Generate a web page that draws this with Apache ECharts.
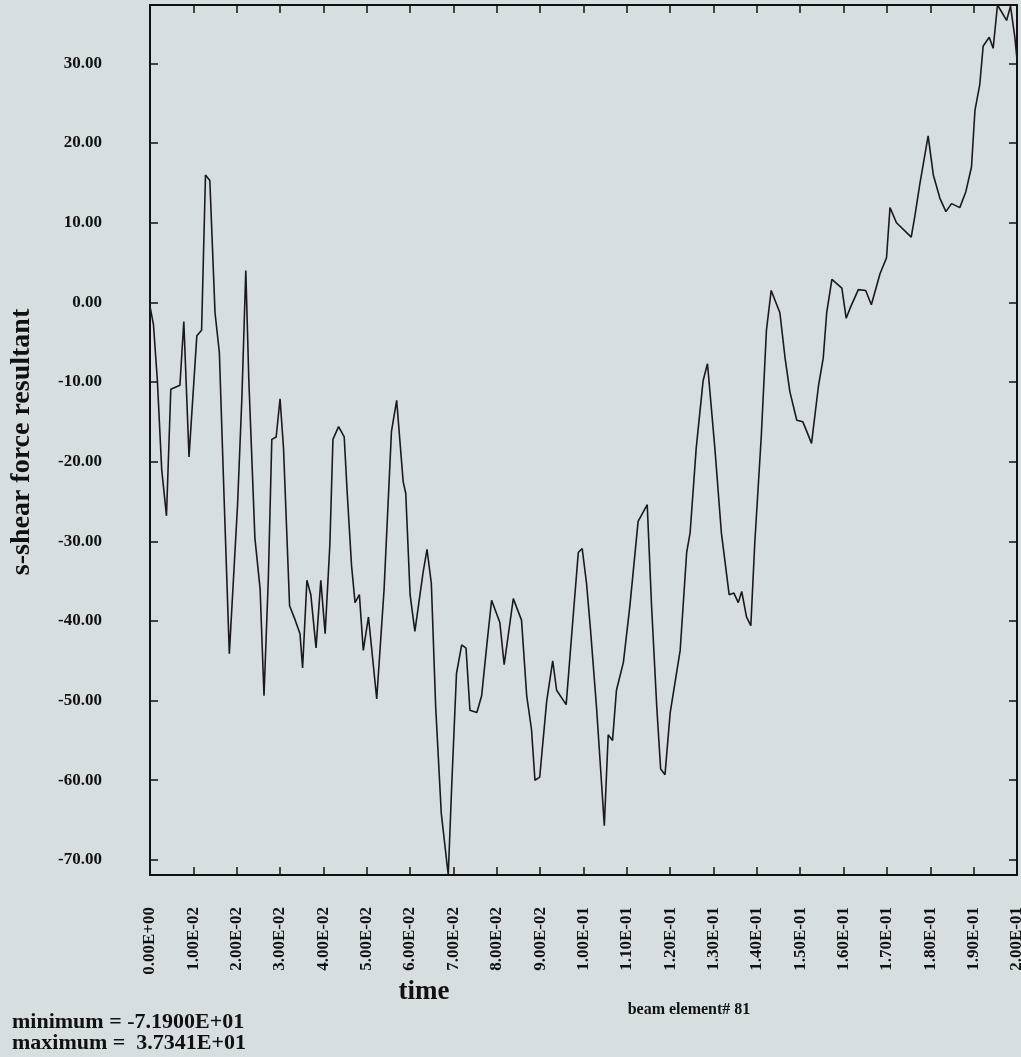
<!DOCTYPE html>
<html>
<head>
<meta charset="utf-8">
<script src="https://cdn.jsdelivr.net/npm/echarts@6/dist/echarts.min.js"></script>
<style>
  html, body { margin: 0; padding: 0; background: #d7dee0; }
  #chart { width: 1021px; height: 1057px; }
</style>
</head>
<body>
<div id="chart"></div>
<script>
// Time samples (milliseconds) and s-shear force resultant of beam element 81
const timeMs = [
  0, 0.8, 1.7, 2.7, 3.8, 4.8, 6.9, 7.8, 9.0, 10.8,
  11.9, 12.8, 13.8, 15.0, 16.0, 17.1, 18.3, 20.2, 21.2, 22.1,
  22.8, 24.2, 25.4, 26.3, 27.3, 28.1, 29.1, 30.0, 30.8, 32.2,
  33.5, 34.6, 35.2, 36.2, 37.1, 38.3, 39.4, 40.4, 41.5, 42.2,
  43.5, 44.8, 45.5, 46.5, 47.3, 48.3, 49.2, 50.4, 52.3, 54.0,
  55.7, 56.9, 58.4, 59.0, 60.0, 61.1, 63.0, 63.9, 64.9, 65.9,
  67.2, 68.8, 69.6, 70.7, 71.9, 72.9, 73.8, 75.4, 76.5, 77.7,
  78.8, 80.7, 81.7, 83.8, 85.7, 86.9, 88.0, 88.8, 89.9, 91.5,
  92.9, 93.8, 96.0, 97.6, 98.8, 99.7, 100.7, 101.6, 103.0, 104.2,
  104.8, 105.7, 106.7, 107.6, 109.2, 110.7, 112.6, 114.7, 115.7, 116.9,
  117.8, 118.8, 120.0, 122.3, 123.8, 124.6, 126.0, 127.6, 128.6, 130.3,
  131.8, 133.6, 134.7, 135.7, 136.5, 137.6, 138.6, 139.5, 141.0, 142.2,
  143.3, 145.3, 146.5, 147.6, 149.2, 150.6, 151.5, 152.6, 154.2, 155.3,
  156.1, 157.3, 159.6, 160.6, 161.6, 163.4, 165.1, 166.4, 168.4, 169.9,
  170.7, 172.2, 175.6, 176.4, 177.6, 179.5, 180.7, 182.2, 183.6, 184.9,
  186.8, 188.2, 189.5, 190.3, 191.4, 192.2, 193.6, 194.5, 195.5, 197.6,
  198.5, 199.5, 200.0
];
const shearForce = [
  -0.5, -2.8, -9.8, -21.0, -26.8, -10.9, -10.4, -2.4, -19.4, -4.2,
  -3.5, 16.0, 15.3, -1.3, -6.3, -24.7, -44.1, -25.4, -11.9, 4.0,
  -9.8, -29.6, -36.0, -49.4, -34.6, -17.2, -16.9, -12.1, -18.3, -38.1,
  -39.9, -41.6, -45.9, -34.9, -36.7, -43.4, -34.9, -41.6, -30.3, -17.2,
  -15.6, -16.9, -24.0, -33.1, -37.7, -36.7, -43.7, -39.5, -49.8, -36.0,
  -16.2, -12.3, -22.5, -24.0, -36.7, -41.3, -33.9, -31.0, -35.3, -50.8,
  -64.2, -71.9, -60.7, -46.6, -43.0, -43.4, -51.2, -51.5, -49.4, -43.0,
  -37.4, -40.2, -45.5, -37.2, -39.9, -49.4, -53.6, -60.0, -59.6, -50.1,
  -45.0, -48.7, -50.5, -39.5, -31.4, -30.9, -35.3, -41.0, -50.8, -60.7,
  -65.7, -54.3, -55.0, -48.7, -45.2, -38.1, -27.5, -25.4, -38.1, -50.8,
  -58.6, -59.3, -51.5, -43.7, -31.4, -28.9, -18.3, -9.8, -7.7, -18.3,
  -28.9, -36.7, -36.5, -37.7, -36.3, -39.5, -40.6, -30.3, -16.9, -3.5,
  1.5, -1.3, -7.0, -11.2, -14.8, -15.0, -16.2, -17.7, -10.5, -7.0,
  -1.3, 2.9, 1.8, -2.0, -0.6, 1.6, 1.5, -0.3, 3.6, 5.6,
  11.9, 10.0, 8.2, 10.7, 14.9, 20.9, 16.0, 13.1, 11.4, 12.4,
  11.9, 13.9, 17.0, 24.1, 27.3, 32.2, 33.3, 31.9, 37.341, 35.4,
  37.2, 33.3, 30.5
];
// Tick labels on the force axis
const forceTicks = [-70, -60, -50, -40, -30, -20, -10, 0, 10, 20, 30];
const forceMin = -71.9;
const forceMax = 37.341;

const serif = '"Liberation Serif", "DejaVu Serif", serif';

function sci(v) {
  if (Math.abs(v) < 1e-12) return '0.00E+00';
  let e = Math.floor(Math.log10(Math.abs(v)) + 1e-9);
  let m = v / Math.pow(10, e);
  if (Math.abs(m) >= 9.995) { m /= 10; e += 1; }
  return m.toFixed(2) + 'E' + (e < 0 ? '-' : '+') + String(Math.abs(e)).padStart(2, '0');
}

const points = timeMs.map((t, i) => [t / 1000, shearForce[i]]);

const frameLine = { show: true, onZero: false, lineStyle: { color: '#111', width: 2 } };
const innerTick = { show: true, inside: true, length: 8, lineStyle: { color: '#111', width: 1.5 } };

const chart = echarts.init(document.getElementById('chart'), null, { renderer: 'canvas' });
chart.setOption({
  backgroundColor: '#d7dee0',
  animation: false,
  grid: { left: 150, right: 4, top: 5, bottom: 182, outerBoundsMode: 'none' },
  xAxis: [
    {
      type: 'value', position: 'bottom', min: 0, max: 0.2, interval: 0.01,
      axisLine: frameLine, axisTick: innerTick, splitLine: { show: false },
      axisLabel: {
        rotate: 90, margin: 32, formatter: sci, color: '#111',
        fontFamily: serif, fontWeight: 'bold', fontSize: 17
      }
    },
    {
      type: 'value', position: 'top', min: 0, max: 0.2, interval: 0.01,
      axisLine: frameLine, axisTick: innerTick, splitLine: { show: false },
      axisLabel: { show: false }
    }
  ],
  yAxis: [
    {
      type: 'value', position: 'left', min: forceMin, max: forceMax,
      axisLine: frameLine, splitLine: { show: false },
      axisTick: Object.assign({ customValues: forceTicks }, innerTick),
      axisLabel: {
        customValues: forceTicks, margin: 48, color: '#111',
        formatter: v => v.toFixed(2),
        fontFamily: serif, fontWeight: 'bold', fontSize: 17
      }
    },
    {
      type: 'value', position: 'right', min: forceMin, max: forceMax,
      axisLine: frameLine, splitLine: { show: false },
      axisTick: Object.assign({ customValues: forceTicks }, innerTick),
      axisLabel: { show: false }
    }
  ],
  series: [{
    type: 'line',
    xAxisIndex: 0,
    yAxisIndex: 0,
    data: points,
    symbol: 'none',
    lineStyle: { color: '#1a1a1a', width: 1.6 }
  }],
  graphic: [
    {
      type: 'text', x: 424, y: 992,
      style: { text: 'time', font: 'bold 27px ' + serif, fill: '#111', align: 'center', verticalAlign: 'middle' }
    },
    {
      type: 'text', x: 22, y: 442, rotation: Math.PI / 2,
      style: { text: 's-shear force resultant', font: 'bold 28px ' + serif, fill: '#111', align: 'center', verticalAlign: 'middle' }
    },
    {
      type: 'text', x: 689, y: 1010,
      style: { text: 'beam element# 81', font: 'bold 16px ' + serif, fill: '#111', align: 'center', verticalAlign: 'middle' }
    },
    {
      type: 'text', x: 12, y: 1022,
      style: { text: 'minimum = -7.1900E+01', font: 'bold 22px ' + serif, fill: '#111', align: 'left', verticalAlign: 'middle' }
    },
    {
      type: 'text', x: 12, y: 1043,
      style: { text: 'maximum =  3.7341E+01', font: 'bold 22px ' + serif, fill: '#111', align: 'left', verticalAlign: 'middle' }
    }
  ]
});
</script>
</body>
</html>
